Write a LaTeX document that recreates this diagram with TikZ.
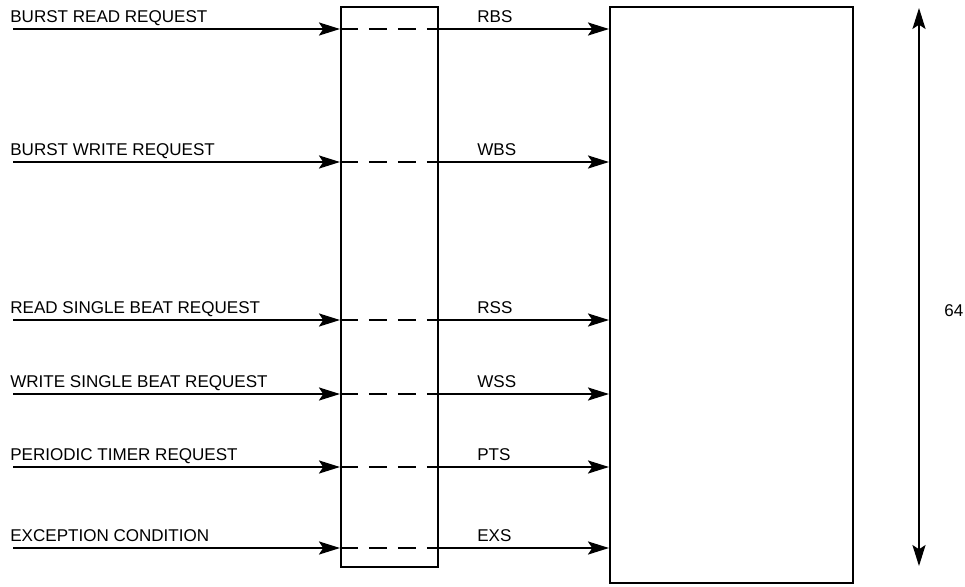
\documentclass[tikz,border=0pt]{standalone}
\usepackage{fontspec}
\setmainfont{Liberation Sans}
\usetikzlibrary{arrows.meta,positioning,calc}

\begin{document}
\begin{tikzpicture}[
    x=0.02cm, y=-0.02cm,
    every node/.style={font=\fontsize{9.7}{11}\selectfont, inner sep=0pt},
    blk/.style={rectangle, draw, line width=1.2pt, minimum width=#1},
    blk/.default=1.94cm,
    inlbl/.style={anchor=base west},
    outlbl/.style={anchor=base west},
    arr/.style={-{Stealth[length=12pt, width=7.5pt, inset=2.5pt]}, line width=0.7pt},
    thru/.style={dashed, dash pattern=on 0.36cm off 0.22cm, line width=0.7pt},
    dimarr/.style={{Stealth[length=12pt, width=7.5pt, inset=2.5pt]}-{Stealth[length=12pt, width=7.5pt, inset=2.5pt]}, line width=0.7pt},
]
\useasboundingbox (0,0) rectangle (965,586);

% --- Blocks ---------------------------------------------------------
\node[blk, minimum height=11.2cm]  (latch) at (389.5,287) {};
\node[blk=4.86cm, minimum height=11.52cm] (ctrl) at (731.5,295) {};

% --- Request inputs (left column) ----------------------------------
\coordinate (in1) at (13, 29);
\coordinate (in2) at (13,162);
\coordinate (in3) at (13,320);
\coordinate (in4) at (13,394);
\coordinate (in5) at (13,467);
\coordinate (in6) at (13,548);

\node[inlbl] (lbr) at (10, 22) {BURST READ REQUEST};
\node[inlbl] (lbw) at (10,155) {BURST WRITE REQUEST};
\node[inlbl] (lrs) at (10,313) {READ SINGLE BEAT REQUEST};
\node[inlbl] (lws) at (10,387) {WRITE SINGLE BEAT REQUEST};
\node[inlbl] (lpt) at (10,460) {PERIODIC TIMER REQUEST};
\node[inlbl] (lex) at (10,541) {EXCEPTION CONDITION};

% --- Status outputs (middle) ---------------------------------------
\node[outlbl] (rbs) at (477, 22) {RBS};
\node[outlbl] (wbs) at (477,155) {WBS};
\node[outlbl] (rss) at (477,313) {RSS};
\node[outlbl] (wss) at (477,387) {WSS};
\node[outlbl] (pts) at (477,460) {PTS};
\node[outlbl] (exs) at (477,541) {EXS};

% --- Input arrows into the latch -----------------------------------
\draw[arr] (in1) -- (in1 -| latch.west);
\draw[arr] (in2) -- (in2 -| latch.west);
\draw[arr] (in3) -- (in3 -| latch.west);
\draw[arr] (in4) -- (in4 -| latch.west);
\draw[arr] (in5) -- (in5 -| latch.west);
\draw[arr] (in6) -- (in6 -| latch.west);

% --- Pass-through inside the latch (dashed) ------------------------
\draw[thru] (in1 -| latch.west) -- (in1 -| latch.east);
\draw[thru] (in2 -| latch.west) -- (in2 -| latch.east);
\draw[thru] (in3 -| latch.west) -- (in3 -| latch.east);
\draw[thru] (in4 -| latch.west) -- (in4 -| latch.east);
\draw[thru] (in5 -| latch.west) -- (in5 -| latch.east);
\draw[thru] (in6 -| latch.west) -- (in6 -| latch.east);

% --- Latch outputs into the controller -----------------------------
\draw[arr] (in1 -| latch.east) -- (in1 -| ctrl.west);
\draw[arr] (in2 -| latch.east) -- (in2 -| ctrl.west);
\draw[arr] (in3 -| latch.east) -- (in3 -| ctrl.west);
\draw[arr] (in4 -| latch.east) -- (in4 -| ctrl.west);
\draw[arr] (in5 -| latch.east) -- (in5 -| ctrl.west);
\draw[arr] (in6 -| latch.east) -- (in6 -| ctrl.west);

% --- Size dimension on the right -----------------------------------
\coordinate (dtop) at (919,  8);
\coordinate (dbot) at (919,566);
\draw[dimarr] (dtop) -- (dbot);
\node[anchor=base west] (size) at (944,316) {64};
\end{tikzpicture}
\end{document}
